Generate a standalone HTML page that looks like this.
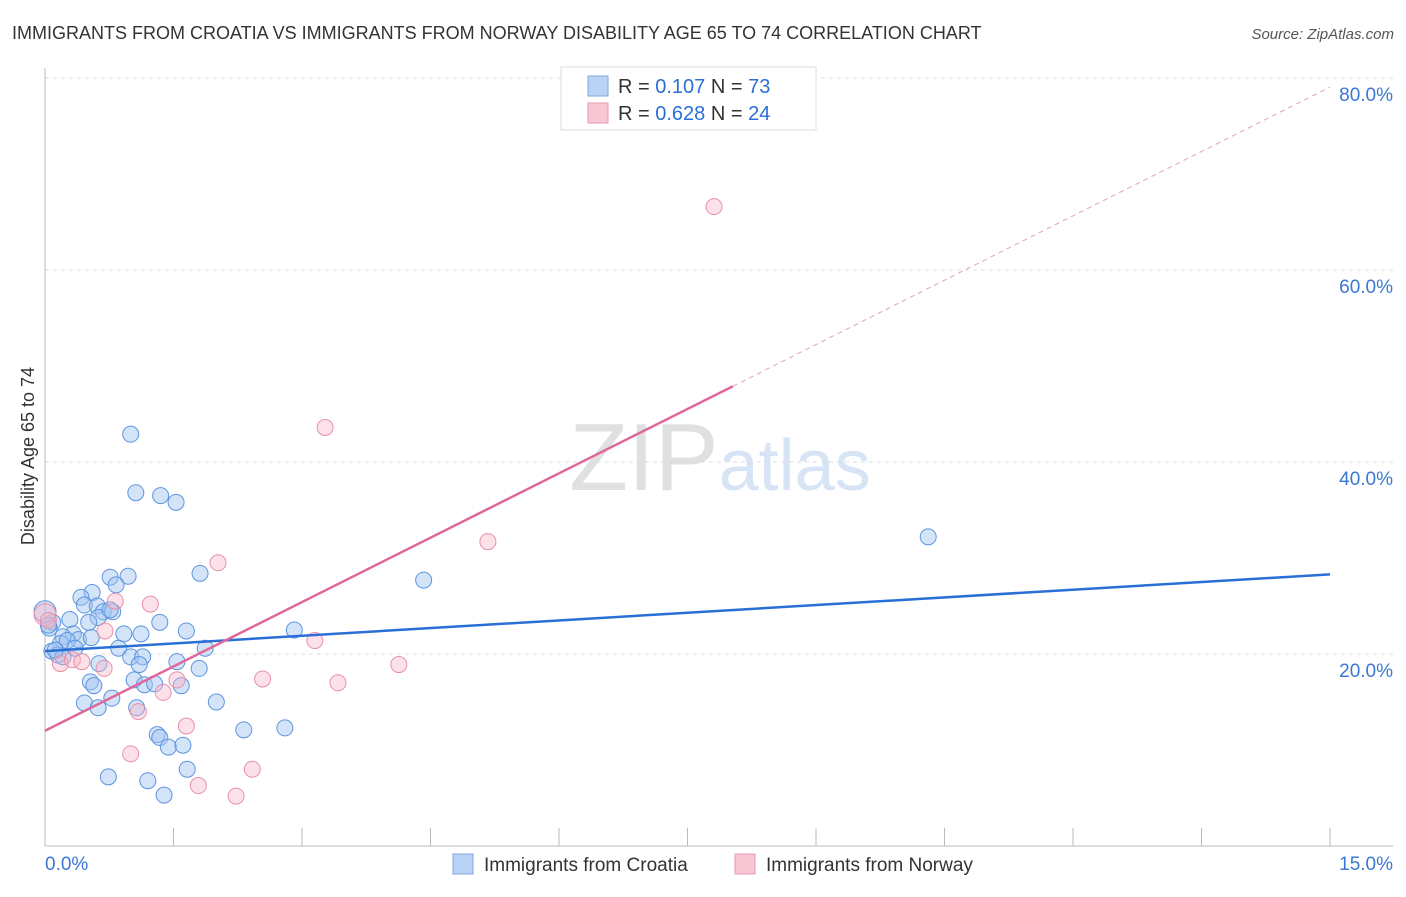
<!DOCTYPE html>
<html><head><meta charset="utf-8"><style>
body{margin:0;background:#fff;font-family:"Liberation Sans",sans-serif}
svg text{font-family:"Liberation Sans",sans-serif}
</style></head><body>
<svg id="chart" width="1406" height="892" xmlns="http://www.w3.org/2000/svg">
<text x="12" y="39" font-size="18" fill="#333">IMMIGRANTS FROM CROATIA VS IMMIGRANTS FROM NORWAY DISABILITY AGE 65 TO 74 CORRELATION CHART</text>
<text x="1394" y="39" font-size="15" fill="#555" text-anchor="end" font-style="italic">Source: ZipAtlas.com</text>
<text x="720" y="490" font-size="96" text-anchor="middle" fill="#ddd" font-family="Liberation Serif"><tspan fill="#e0e0e0">ZIP</tspan><tspan fill="#d6e4f5" font-family="Liberation Sans" font-size="72">atlas</tspan></text>
<g id="grid"></g><g id="axes"></g><g id="marks"></g>
<text transform="translate(34,456) rotate(-90)" font-size="18" fill="#333" text-anchor="middle">Disability Age 65 to 74</text>
<g>
<rect x="561" y="67" width="255" height="63" fill="#fff" stroke="#ddd"/>
<rect x="588" y="76" width="20" height="20" fill="#b8d3f5" stroke="#7aa8e0"/>
<rect x="588" y="103" width="20" height="20" fill="#f9c6d6" stroke="#e89ab2"/>
<text x="618" y="93" font-size="20" fill="#333">R = <tspan fill="#2b6fd6">0.107</tspan>   N = <tspan fill="#2b6fd6">73</tspan></text>
<text x="618" y="120" font-size="20" fill="#333">R = <tspan fill="#2b6fd6">0.628</tspan>   N = <tspan fill="#2b6fd6">24</tspan></text>
</g>
<g>
<rect x="453" y="854" width="20" height="20" fill="#b8d3f5" stroke="#7aa8e0"/>
<text x="484" y="871" font-size="19" fill="#333">Immigrants from Croatia</text>
<rect x="735" y="854" width="20" height="20" fill="#f9c6d6" stroke="#e89ab2"/>
<text x="766" y="871" font-size="19" fill="#333">Immigrants from Norway</text>
</g>
</svg>
<script>
const xTicks=[0,1.5,3,4.5,6,7.5,9,10.5,12,13.5,15];
const yTicks=[20,40,60,80];
const yTickLabels=["20.0%","40.0%","60.0%","80.0%"];
const xEndLabels=["0.0%","15.0%"];
const croatiaX=[1.00,1.06,1.35,1.53,10.31,4.42,1.81,0.76,0.97,0.83,0.55,0.42,0.46,0.61,0.68,0.79,0.62,0.29,0.09,0.05,0.51,1.34,1.65,2.91,0.92,1.12,0.33,0.21,0.39,0.54,0.18,0.26,0.86,1.87,0.08,0.15,0.21,1.00,1.14,1.54,1.10,0.63,1.80,1.04,0.53,0.57,1.16,1.28,1.59,0.78,0.46,0.62,2.00,1.07,2.32,2.80,1.31,1.34,1.44,1.61,1.66,0.74,1.20,1.39,0.0,0.04,0.12,0.35,0.76];
const croatiaY=[42.9,36.8,36.5,35.8,32.2,27.7,28.4,28.0,28.1,27.2,26.4,25.9,25.1,25.0,24.4,24.4,23.8,23.6,23.3,22.7,23.3,23.3,22.4,22.5,22.1,22.1,22.1,21.8,21.5,21.7,21.1,21.4,20.6,20.6,20.3,19.9,19.7,19.7,19.7,19.2,18.9,19.0,18.5,17.3,17.1,16.7,16.8,16.9,16.7,15.4,14.9,14.4,15.0,14.4,12.1,12.3,11.6,11.3,10.3,10.5,8.0,7.2,6.8,5.3,24.4,23.0,20.4,20.6,24.6];
const norwayX=[7.81,3.27,5.17,2.02,1.23,0.82,0.70,3.15,4.13,2.54,3.42,1.54,1.38,1.09,1.65,1.00,2.42,1.79,2.23,0.18,0.32,0.43,0.69,0.0,0.04];
const norwayY=[66.6,43.6,31.7,29.5,25.2,25.5,22.4,21.4,18.9,17.4,17.0,17.3,16.0,14.0,12.5,9.6,8.0,6.3,5.2,19.0,19.4,19.2,18.5,24.1,23.5];
const croatiaTrend=[20.3,0.533];
const norwayTrend=[12.0,4.47];
const norwaySolidEnd=8.03;
const NS="http://www.w3.org/2000/svg";
const sx=v=>45+v*(1285/15), sy=v=>846-v*9.6;
function mk(t,a,p){const e=document.createElementNS(NS,t);for(const k in a)e.setAttribute(k,a[k]);document.getElementById(p).appendChild(e);return e;}
yTicks.forEach((t,i)=>{
 const g=mk('line',{x1:45,x2:1393,y1:sy(t),y2:sy(t),stroke:'#ddd','stroke-dasharray':'4,4'},'grid');
 
 
 const l=mk('text',{x:1393,y:sy(t)+23,'font-size':19,fill:'#3a78d4','text-anchor':'end'},'axes');
 l.textContent=yTickLabels[i];
 
 
});
let a=mk('line',{x1:45,x2:45,y1:68,y2:846,stroke:'#bbb'},'axes');


a=mk('line',{x1:45,x2:1393,y1:846,y2:846,stroke:'#bbb'},'axes');


xTicks.forEach(t=>{const k=mk('line',{x1:sx(t),x2:sx(t),y1:828,y2:846,stroke:'#bbb'},'axes');
 
 });
let xl=mk('text',{x:45,y:870,'font-size':19,fill:'#3a78d4'},'axes');xl.textContent=xEndLabels[0];


xl=mk('text',{x:1393,y:870,'font-size':19,fill:'#3a78d4','text-anchor':'end'},'axes');xl.textContent=xEndLabels[1];


croatiaX.forEach((x,i)=>{const c=mk('circle',{cx:sx(x),cy:sy(croatiaY[i]),r:(x===0?11:8),fill:'rgba(160,195,240,0.45)',stroke:'#5d95e0','stroke-width':1},'marks');
 
 });
norwayX.forEach((x,i)=>{const c=mk('circle',{cx:sx(x),cy:sy(norwayY[i]),r:(x===0?11:8),fill:'rgba(248,180,200,0.4)',stroke:'#e890aa','stroke-width':1},'marks');
 
 });
let L=mk('line',{x1:sx(0),y1:sy(croatiaTrend[0]),x2:sx(15),y2:sy(croatiaTrend[0]+croatiaTrend[1]*15),stroke:'#2a6fd6','stroke-width':2.5},'marks');


L=mk('line',{x1:sx(0),y1:sy(norwayTrend[0]),x2:sx(norwaySolidEnd),y2:sy(norwayTrend[0]+norwayTrend[1]*norwaySolidEnd),stroke:'#e0679a','stroke-width':2.5},'marks');


L=mk('line',{x1:sx(norwaySolidEnd),y1:sy(norwayTrend[0]+norwayTrend[1]*norwaySolidEnd),x2:sx(15),y2:sy(norwayTrend[0]+norwayTrend[1]*15),stroke:'#e8a0b8','stroke-width':1,'stroke-dasharray':'5,4'},'marks');


</script>
</body></html>
